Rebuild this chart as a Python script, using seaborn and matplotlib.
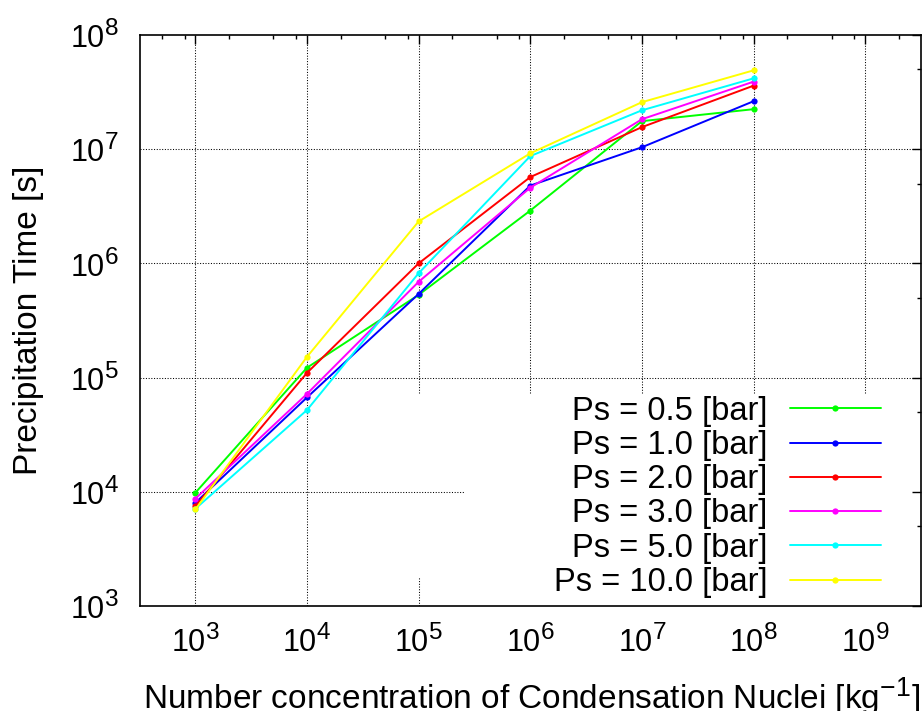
import numpy as np
import pandas as pd
import matplotlib
matplotlib.use("Agg")
import matplotlib.pyplot as plt
import matplotlib.ticker as mticker
import matplotlib._mathtext as _mt
import seaborn as sns

# ---- data ----
nuclei = [1e3, 1e4, 1e5, 1e6, 1e7, 1e8]
labels = ["Ps = 0.5 [bar]", "Ps = 1.0 [bar]", "Ps = 2.0 [bar]",
          "Ps = 3.0 [bar]", "Ps = 5.0 [bar]", "Ps = 10.0 [bar]"]
ps_05 = [9800, 1.22e5, 5.3e5, 2.9e6, 1.76e7, 2.24e7]
ps_10 = [8000, 6.7e4, 5.4e5, 4.8e6, 1.04e7, 2.63e7]
ps_20 = [7500, 1.10e5, 1.0e6, 5.7e6, 1.56e7, 3.6e7]
ps_30 = [8700, 7.2e4, 6.9e5, 4.6e6, 1.83e7, 3.9e7]
ps_50 = [7100, 5.2e4, 8.2e5, 8.7e6, 2.19e7, 4.17e7]
ps_100 = [7000, 1.52e5, 2.33e6, 9.2e6, 2.58e7, 4.9e7]
series = [ps_05, ps_10, ps_20, ps_30, ps_50, ps_100]
colors = ["#00ff00", "#0000ff", "#ff0000", "#ff00ff", "#00ffff", "#ffff00"]

rows = []
for lab, vals in zip(labels, series):
    for x, y in zip(nuclei, vals):
        rows.append({"N": x, "T": y, "series": lab})
df = pd.DataFrame(rows)

sns.set_style("white")
plt.rcParams["font.family"] = ["Liberation Sans", "DejaVu Sans"]
plt.rcParams["text.color"] = "black"
plt.rcParams["axes.labelcolor"] = "black"
plt.rcParams["xtick.color"] = "black"
plt.rcParams["ytick.color"] = "black"
plt.rcParams["mathtext.fontset"] = "custom"
plt.rcParams["mathtext.rm"] = "Liberation Sans"
plt.rcParams["mathtext.it"] = "Liberation Sans"
plt.rcParams["mathtext.bf"] = "Liberation Sans:bold"
_mt.SHRINK_FACTOR = 0.8   # larger superscripts, like the original

FS_TICK = 22
FS_LAB = 24
FS_LEG = 23.5
fig = plt.figure(figsize=(9.24, 7.11), dpi=100)
ax = fig.add_axes([0.151, 0.1477, 0.8458, 0.8031])
ax.set_xscale("log")
ax.set_yscale("log")

sns.lineplot(data=df, x="N", y="T", hue="series", hue_order=labels,
             palette=dict(zip(labels, colors)), marker="o", markersize=4.5,
             markeredgewidth=0, linewidth=1.4, legend=False, ax=ax, zorder=3)

ax.set_xlim(10**2.5, 10**9.5)
ax.set_ylim(1e3, 1e8)

handles = list(ax.get_lines())[:len(labels)]

# grid (dotted), interrupted by the key area like the original
gstyle = dict(color="black", linewidth=0.75, linestyle=(0, (1, 1.6)), zorder=1)
for yv in [1e5, 1e6, 1e7]:
    ax.axhline(yv, **gstyle)
ax.axhline(1e4, xmin=0, xmax=0.415, **gstyle)
for xv in [1e3, 1e4]:
    ax.axvline(xv, **gstyle)
ax.axvline(1e5, ymin=0.373, ymax=1, **gstyle)
ax.axvline(1e5, ymin=0, ymax=0.05, **gstyle)
for xv in [1e6, 1e7, 1e8, 1e9]:
    ax.axvline(xv, ymin=0.373, ymax=1, **gstyle)

# ticks
fmt = mticker.FuncFormatter(lambda v, p: r"$10^{%d}$" % int(round(np.log10(v))))
ax.xaxis.set_major_locator(mticker.LogLocator(base=10, numticks=30))
ax.yaxis.set_major_locator(mticker.LogLocator(base=10, numticks=30))
ax.xaxis.set_minor_locator(mticker.LogLocator(base=10, subs=[2, 5, 8], numticks=30))
ax.yaxis.set_minor_locator(mticker.LogLocator(base=10, subs=[5], numticks=30))
ax.xaxis.set_major_formatter(fmt)
ax.yaxis.set_major_formatter(fmt)
ax.xaxis.set_minor_formatter(mticker.NullFormatter())
ax.yaxis.set_minor_formatter(mticker.NullFormatter())
ax.tick_params(which="both", direction="in", top=True, right=True,
               color="black", labelcolor="black", width=1.0)
ax.tick_params(which="major", length=6.5, labelsize=FS_TICK)
ax.tick_params(which="minor", length=3.2)
ax.tick_params(axis="x", which="major", pad=14)
ax.tick_params(axis="y", which="major", pad=15)

for sp in ax.spines.values():
    sp.set_color("black")
    sp.set_linewidth(1.2)

ax.set_xlabel(r"Number concentration of Condensation Nuclei [kg$^{-1}$]",
              fontsize=FS_LAB, color="black")
ax.set_ylabel("Precipitation Time [s]", fontsize=FS_LAB, color="black")
ax.xaxis.set_label_coords(0.502, -0.122)
ax.yaxis.set_label_coords(-0.122, 0.5)

leg = ax.legend(handles, labels, loc="lower right", bbox_to_anchor=(0.9488, 0.014),
                frameon=False, fontsize=FS_LEG, markerfirst=False, handlelength=2.8,
                handletextpad=0.68, labelspacing=0.1, borderpad=0.0,
                borderaxespad=0.0, numpoints=1)
for t in leg.get_texts():
    t.set_color("black")
for lh in leg.get_lines():
    lh.set_linewidth(1.4)
    lh.set_markersize(4.5)

fig.savefig("out.png", dpi=100)
